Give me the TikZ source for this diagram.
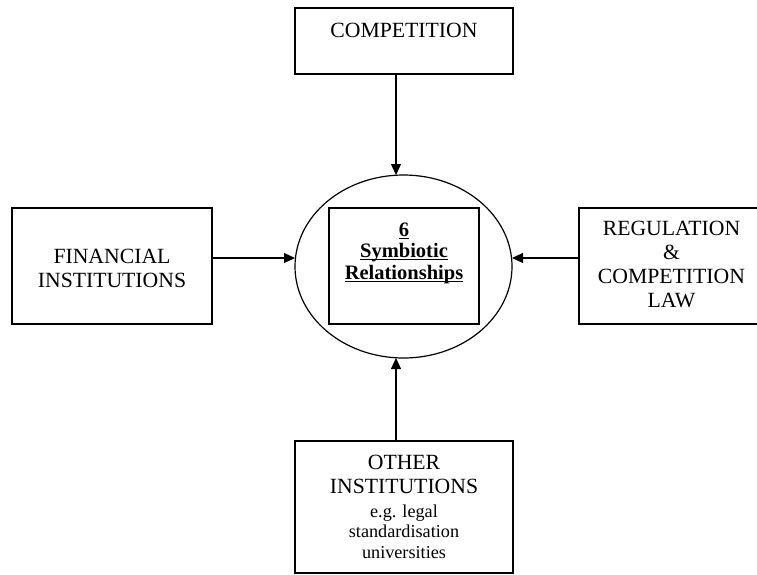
\documentclass[tikz,border=0pt]{standalone}
\usepackage{fontspec}
\setmainfont{Liberation Serif}
\usetikzlibrary{shapes.geometric,arrows.meta}

% underline drawn just under the baseline, crossing descenders
\newcommand\ulword[1]{\setbox0\hbox{#1}\rlap{\rule[-2.6pt]{\wd0}{1.1pt}}\box0}

\tikzset{
  box/.style={draw, line width=1.2pt, rectangle, inner sep=0pt, outer sep=0pt},
  caps/.style={inner sep=0pt, anchor=north, align=center,
    font=\fontsize{21.7}{24.5}\selectfont},
  small/.style={inner sep=0pt, anchor=north, align=center,
    font=\fontsize{18.2}{20.5}\selectfont},
  boldtxt/.style={inner sep=0pt, anchor=north, align=center,
    font=\fontsize{20.5}{21.5}\selectfont\bfseries},
  link/.style={line width=1.1pt, -{Triangle[length=11pt,width=10pt]}},
}

\begin{document}
\begin{tikzpicture}[x=1pt, y=-1pt]
  \useasboundingbox (0,0) rectangle (757,574);

  % central ellipse with its inner box
  \node[draw, line width=1.2pt, ellipse, inner sep=0pt, outer sep=0pt,
        minimum width=217pt, minimum height=183pt] (ring) at (403.5,266.5) {};
  \node[box, minimum width=150pt, minimum height=116pt] (core) at (404,266) {};
  \node[boldtxt] (coretxt) at (404,222.5)
    {\ulword{6}\\ \ulword{Symbiotic}\\ \ulword{Relationships}};

  % surrounding boxes
  \node[box, minimum width=218pt, minimum height=66pt] (comp) at (404,41) {};
  \node[caps] (comptxt) at (404,22.6) {COMPETITION};

  \node[box, minimum width=200pt, minimum height=116pt] (fin) at (112,266) {};
  \node[caps] (fintxt) at (112,248.6) {FINANCIAL\\INSTITUTIONS};

  \node[box, minimum width=185pt, minimum height=116pt] (reg) at (671.5,266) {};
  \node[caps, font=\fontsize{21.7}{24}\selectfont] (regtxt) at (671.5,220.6)
    {REGULATION\\\&\\COMPETITION\\LAW};

  \node[box, minimum width=218pt, minimum height=132pt] (oth) at (404,507) {};
  \node[caps, font=\fontsize{21.7}{24}\selectfont] (othtxt) at (404,454.6)
    {OTHER\\INSTITUTIONS};
  \node[small] (othsub) at (404,504.6)
    {e.g. legal\\standardisation\\universities};

  % arrows converging on the ellipse
  \coordinate (hub) at (396,258);
  \draw[link] (comp.south -| hub) -- (hub |- ring.north);
  \draw[link] (oth.north -| hub) -- (hub |- ring.south);
  \draw[link] (fin.east |- hub) -- (ring.west |- hub);
  \draw[link] (reg.west |- hub) -- (ring.east |- hub);
\end{tikzpicture}
\end{document}
